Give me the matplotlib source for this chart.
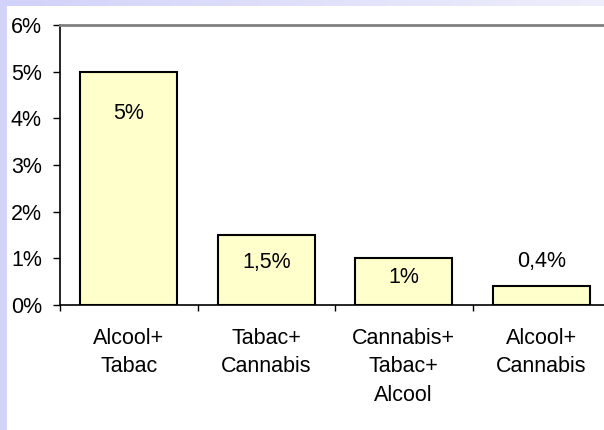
import matplotlib
matplotlib.use("Agg")
import matplotlib.pyplot as plt
import numpy as np
from matplotlib.patches import Rectangle
from matplotlib.colors import LinearSegmentedColormap

categories = ["Alcool+\nTabac", "Tabac+\nCannabis", "Cannabis+\nTabac+\nAlcool", "Alcool+\nCannabis"]
values = [5.0, 1.5, 1.0, 0.4]
value_labels = ["5%", "1,5%", "1%", "0,4%"]
label_y = [4.1, 0.92, 0.58, 0.94]
yticks = [0, 1, 2, 3, 4, 5, 6]
ytick_labels = ["0%", "1%", "2%", "3%", "4%", "5%", "6%"]

plt.rcParams['font.family'] = ['Liberation Sans', 'DejaVu Sans']
FS = 15.5

W, H = 604, 430
fig = plt.figure(figsize=(W / 100, H / 100), dpi=100)
fig.patch.set_facecolor("white")

# decorative lavender strips
fig.patches.append(Rectangle((0, 0), 7 / W, 1, transform=fig.transFigure,
                             facecolor="#d2d2fa", edgecolor="none", zorder=0))
gax = fig.add_axes([0, 1 - 6 / H, 1, 6 / H])
cmap = LinearSegmentedColormap.from_list("g", ["#d2d2fa", "#eeeefc"])
gax.imshow(np.linspace(0, 1, 256).reshape(1, -1), aspect="auto", cmap=cmap)
gax.axis("off")

ax = fig.add_axes([60 / W, (H - 305) / H, 550 / W, 280 / H])
ax.set_facecolor("white")
x = np.arange(len(categories))
ax.bar(x, values, width=0.705, color="#ffffcc", edgecolor="black", linewidth=1.5, zorder=3)

for xi, lab, ly in zip(x, value_labels, label_y):
    ax.text(xi, ly, lab, ha="center", va="center", fontsize=FS, zorder=4)

ax.set_xlim(-0.5, len(categories) - 0.5)
ax.set_ylim(0, 6)
ax.set_yticks(yticks)
ax.set_yticklabels(ytick_labels, fontsize=FS)
ax.tick_params(axis="y", direction="out", length=5, width=1, pad=8)

ax.set_xticks(np.arange(len(categories) + 1) - 0.5)
ax.set_xticklabels([])
ax.tick_params(axis="x", which="major", direction="out", length=4, width=1)
ax.set_xticks(x, minor=True)
ax.set_xticklabels(categories, minor=True, fontsize=FS, linespacing=1.47, va="top")
ax.tick_params(axis="x", which="minor", length=0, pad=16.5)

for s in ["left", "bottom"]:
    ax.spines[s].set_color("black")
    ax.spines[s].set_linewidth(1.2)
ax.spines["top"].set_color("#808080")
ax.spines["top"].set_linewidth(2)
ax.spines["right"].set_visible(False)

fig.savefig("out.png", dpi=100)
